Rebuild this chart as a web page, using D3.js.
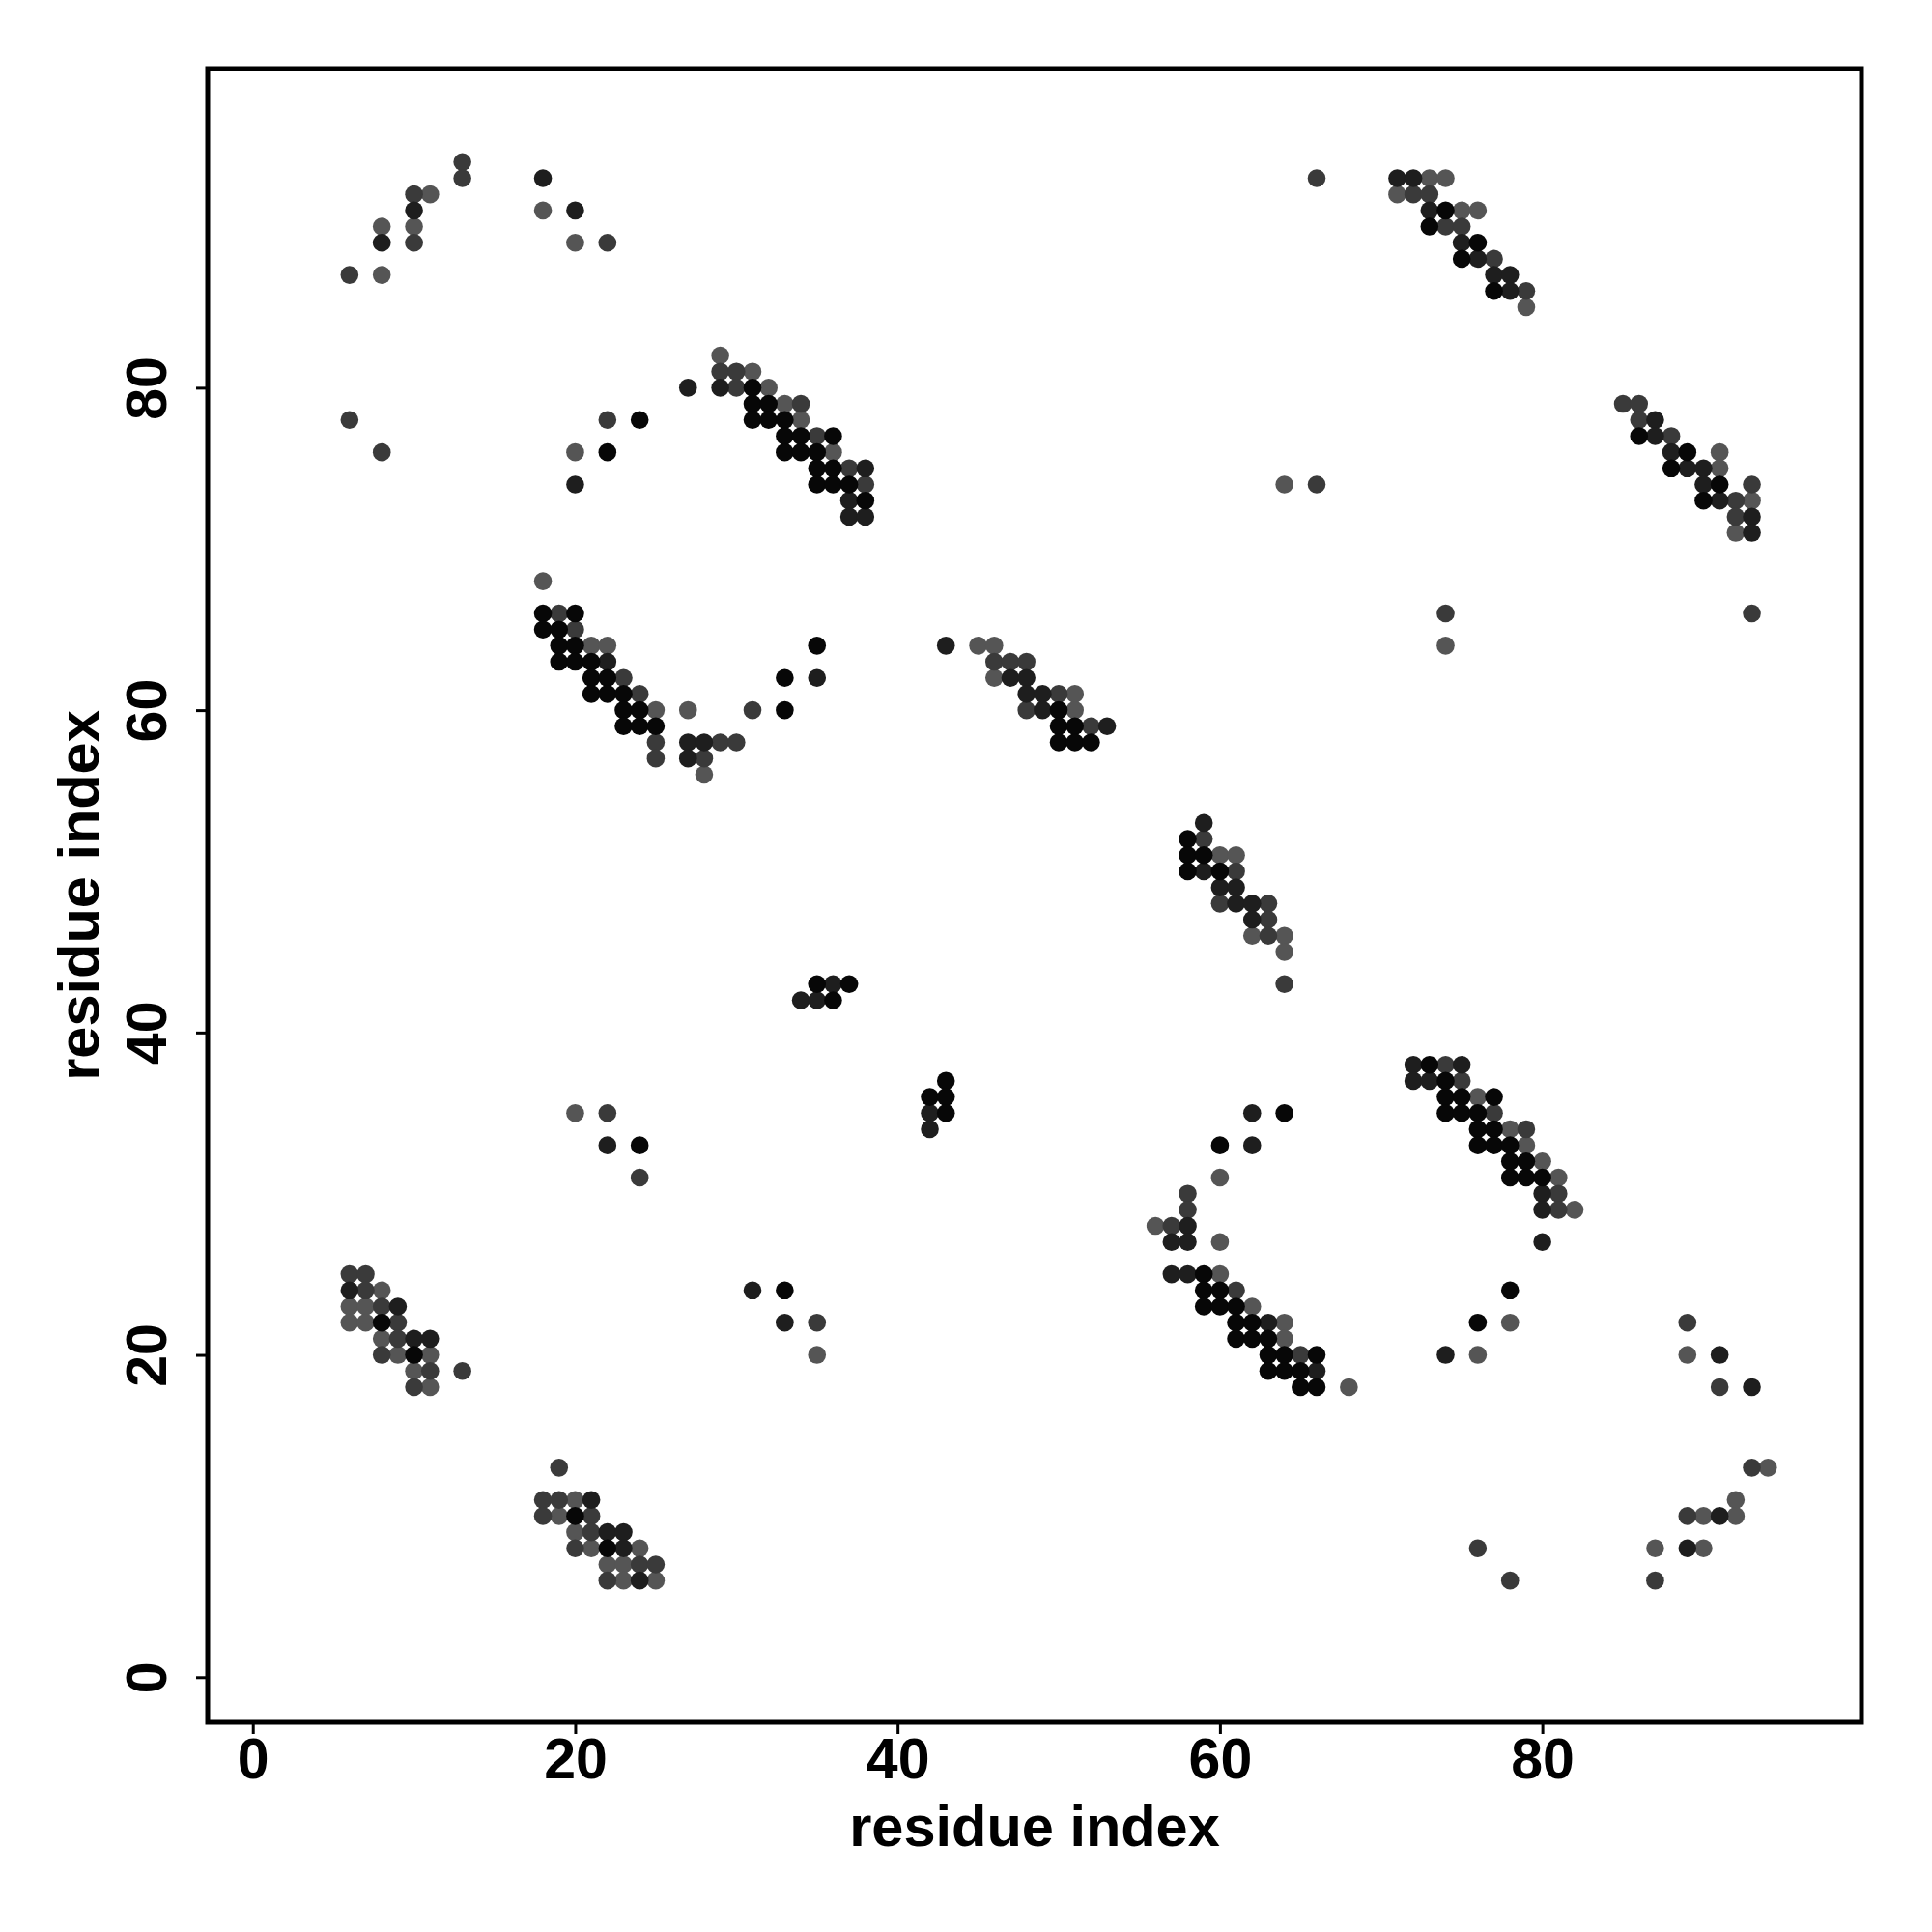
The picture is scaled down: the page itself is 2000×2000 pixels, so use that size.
<!DOCTYPE html>
<html>
<head>
<meta charset="utf-8">
<script src="https://cdn.jsdelivr.net/npm/d3@7"></script>
<style>
  html, body { margin: 0; padding: 0; background: #fff; }
  svg text { font-family: "Liberation Sans", Arial, Helvetica, sans-serif; font-weight: bold; }
</style>
</head>
<body>
<svg id="chart" width="2000" height="2000"></svg>
<script>
// residue index range (sequence length)
const residueRange = [1, 96];
const tickValues = [0, 20, 40, 60, 80];
const xTitle = "residue index";
const yTitle = "residue index";

// contacts [i, j] grouped by predicted strength
const contactsStrong = [
  [31,80],[31,79],[31,78],[24,78],[22,76],[18,66],[20,66],
  [32,79],[32,78],[33,78],[33,77],[34,77],[36,77],[33,76],[34,76],[35,76],[35,75],[36,75],[35,74],[36,74],[37,74],[38,73],
  [74,91],[73,90],[76,89],[75,88],[77,86],[86,77],[89,76],[88,75],[91,74],[90,73],
  [18,65],[19,65],[19,64],[20,64],[19,63],[20,63],[21,63],[21,62],[22,62],[21,61],[22,61],[23,61],[23,60],[24,60],[23,59],[24,59],[25,59],[24,33],
  [35,64],[33,62],[33,60],[50,60],[50,59],[51,59],[50,58],[51,58],[52,58],[58,52],[58,51],[59,51],[58,50],[60,50],[35,43],[37,43],[36,42],[43,37],[42,36],[43,36],[43,35],[64,35],[60,33],
  [73,38],[74,37],[74,36],[75,36],[77,36],[74,35],[75,35],[76,35],[76,34],[77,34],[76,33],[77,33],[78,33],[78,32],[79,32],
  [78,31],[79,31],[80,31],[78,24],[76,22],
  [8,22],[10,20],[20,10],[22,8],
  [33,24],[59,25],[59,24],[60,24],[59,23],[60,23],[61,23],[61,22],[62,22],[61,21],[62,21],[63,21],[63,20],[64,20],[66,20],[63,19],[64,19],[65,19],[65,18],[66,18]
];
const contactsHigh = [
  [10,91],[8,89],[18,93],[20,91],[20,74],[27,80],[29,80],
  [38,75],[37,73],[37,72],[38,72],
  [71,93],[72,93],[73,91],[75,89],[76,88],[77,87],[78,87],[78,86],[87,78],[87,77],[88,76],[89,75],[90,75],[90,74],[91,73],[93,72],[93,71],
  [22,63],[27,58],[28,58],[27,57],[22,33],
  [35,62],[43,64],[47,62],[48,62],[48,61],[49,61],[49,60],[53,59],[59,53],[59,50],[60,49],[61,49],[61,48],[62,48],[62,47],[36,43],[34,42],[35,42],[42,35],[42,34],[62,35],[62,33],
  [72,38],[75,38],[72,37],[73,37],
  [80,30],[80,29],[80,27],[74,20],[91,20],[93,18],[91,10],[89,8],
  [31,24],[6,24],[9,23],[10,21],[11,21],[21,11],[22,9],[23,9],[23,8],[24,6],
  [33,22],[58,28],[57,27],[58,27],[57,25],[58,25],[63,22],[66,19]
];
const contactsMedium = [
  [13,94],[13,93],[10,92],[10,89],[22,89],[6,87],[6,78],[8,76],[22,78],[29,81],[30,81],[30,80],[19,66],
  [34,79],[35,77],[37,75],[38,74],[66,74],[66,93],
  [72,92],[73,92],[74,90],[75,90],[77,88],[79,86],[85,79],[86,79],[86,78],[88,77],[93,74],[92,73],[92,72],[74,66],[93,66],
  [20,65],[23,62],[24,61],[31,60],[25,58],[29,58],[30,58],[25,57],[28,57],[22,35],
  [46,63],[47,63],[48,63],[50,61],[48,60],[52,59],[59,52],[61,50],[60,48],[63,48],[63,47],[63,46],[64,43],
  [74,38],[75,37],[77,35],[79,34],
  [81,30],[81,29],[89,22],[91,18],[93,13],[89,10],[76,8],[78,6],[87,6],
  [24,31],[6,25],[7,25],[7,24],[8,23],[9,22],[9,21],[8,20],[11,19],[13,19],[10,18],[19,13],[18,11],[19,11],[18,10],[21,10],[21,9],[20,8],[24,7],[25,7],[22,6],
  [35,22],[58,30],[58,29],[57,28],[61,24],[65,20]
];
const contactsLow = [
  [11,92],[10,90],[8,90],[8,87],[18,91],[20,89],[20,76],[29,82],[31,81],[18,68],
  [32,80],[33,79],[34,78],[36,76],[64,74],
  [73,93],[74,93],[71,92],[75,91],[76,91],[79,85],[91,76],[91,75],[93,73],[92,71],[74,64],
  [21,64],[22,64],[25,60],[27,60],[28,56],[20,35],
  [45,64],[46,64],[46,62],[51,61],[51,60],[60,51],[61,51],[62,46],[64,46],[64,45],
  [76,36],[78,34],[79,33],[80,32],
  [81,31],[82,29],[78,22],[76,20],[89,20],[94,13],[92,11],[90,10],[92,10],[87,8],[90,8],
  [8,24],[6,23],[7,23],[6,22],[7,22],[8,21],[9,20],[11,20],[10,19],[11,18],[20,11],[19,10],[20,9],[21,8],[24,8],[22,7],[23,7],[23,6],[25,6],
  [35,20],[60,31],[56,28],[60,27],[60,25],[62,23],[64,22],[64,21],[68,18]
];

const groups = [
  { data: contactsLow, color: "#555555" },
  { data: contactsMedium, color: "#3a3a3a" },
  { data: contactsHigh, color: "#1e1e1e" },
  { data: contactsStrong, color: "#070707" }
];

const svg = d3.select("#chart");
svg.append("rect").attr("width", 2000).attr("height", 2000).attr("fill", "#fff");

const mLeft = 215, mRight = 1927, mTop = 71, mBottom = 1783;
const pad = (residueRange[1] - residueRange[0]) * 0.04;
const x = d3.scaleLinear().domain([residueRange[0] - pad, residueRange[1] + pad]).range([mLeft, mRight]);
const y = d3.scaleLinear().domain([residueRange[0] - pad, residueRange[1] + pad]).range([mBottom, mTop]);

const pts = svg.append("g");
groups.forEach(g => {
  pts.selectAll(null).data(g.data).enter().append("circle")
    .attr("cx", d => x(d[0]))
    .attr("cy", d => y(d[1]))
    .attr("r", 9.3)
    .attr("fill", g.color);
});

// frame
svg.append("rect")
  .attr("x", mLeft).attr("y", mTop)
  .attr("width", mRight - mLeft).attr("height", mBottom - mTop)
  .attr("fill", "none").attr("stroke", "#000").attr("stroke-width", 5);

// x axis
const gx = svg.append("g").attr("transform", `translate(0,${mBottom})`)
  .call(d3.axisBottom(x).tickValues(tickValues).tickSize(12).tickFormat(d3.format("d")));
gx.select(".domain").remove();
gx.selectAll(".tick line").attr("stroke", "#000").attr("stroke-width", 3);
gx.selectAll(".tick text")
  .attr("y", 58).attr("dy", 0)
  .attr("fill", "#000")
  .style("font-size", "59px");

// y axis
const gy = svg.append("g").attr("transform", `translate(${mLeft},0)`)
  .call(d3.axisLeft(y).tickValues(tickValues).tickSize(12).tickFormat(d3.format("d")));
gy.select(".domain").remove();
gy.selectAll(".tick line").attr("stroke", "#000").attr("stroke-width", 3);
gy.selectAll(".tick text")
  .attr("transform", "rotate(-90)")
  .attr("x", 0).attr("y", -43).attr("dy", 0)
  .attr("text-anchor", "middle")
  .attr("fill", "#000")
  .style("font-size", "59px");

// titles
svg.append("text")
  .attr("x", (mLeft + mRight) / 2).attr("y", 1911)
  .attr("text-anchor", "middle")
  .style("font-size", "59.5px")
  .text(xTitle);
svg.append("text")
  .attr("transform", `translate(102,${(mTop + mBottom) / 2}) rotate(-90)`)
  .attr("text-anchor", "middle")
  .style("font-size", "59.5px")
  .text(yTitle);
</script>
</body>
</html>
